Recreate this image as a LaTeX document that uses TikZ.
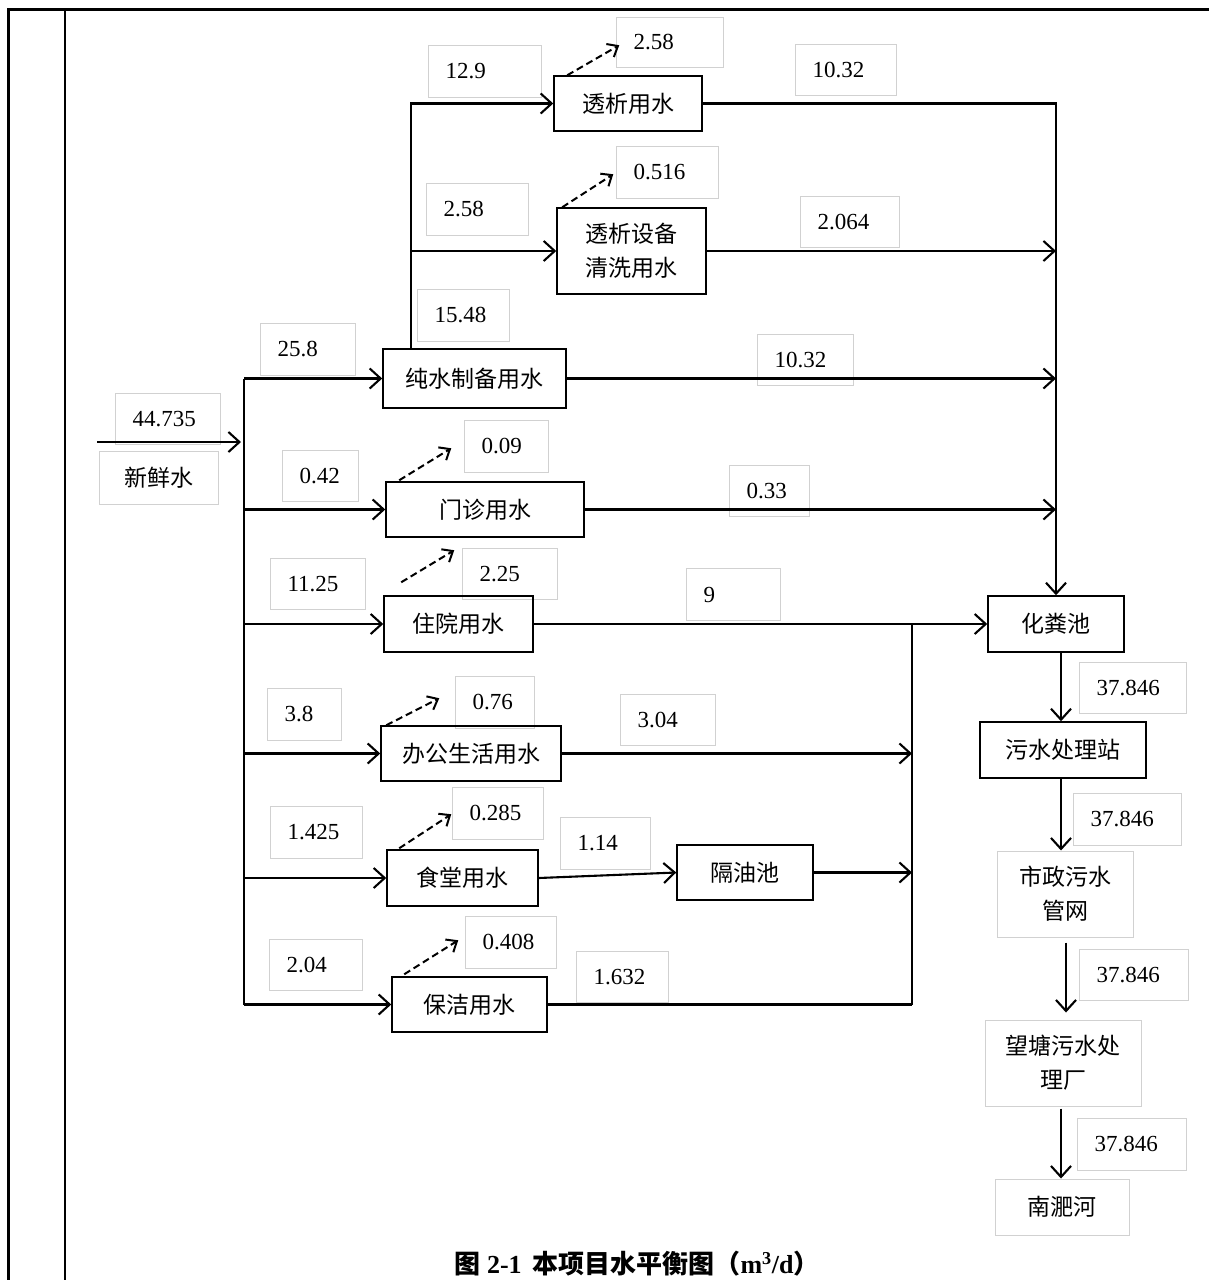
\documentclass[tikz,border=0pt]{standalone}
\usepackage{fontspec}
\setmainfont{Liberation Serif}
\newfontfamily\cjk{Noto Sans CJK SC}
\usetikzlibrary{arrows.meta}
\tikzset{
  box/.style={draw, line width=1.5pt, inner sep=0pt, align=center, font=\cjk\fontsize{23}{34}\selectfont},
  gbox/.style={draw=black!18, line width=1pt, inner sep=0pt, align=center, font=\cjk\fontsize{23}{34}\selectfont},
  num/.style={draw=black!18, line width=1pt, inner xsep=17pt, inner ysep=0pt, align=left, anchor=north west, font=\fontsize{23}{26}\selectfont},
  ln/.style={line width=2.1pt},
  arr/.style={ln, -{Straight Barb[length=11pt,width=20pt]}},
  darr/.style={line width=2pt, dash pattern=on 7pt off 4pt, -{Straight Barb[length=9pt,width=15pt]}},
}
\begin{document}
\begin{tikzpicture}[x=1pt,y=-1pt]
\useasboundingbox (0,0) rectangle (1208,1280);
% frame
\draw[line width=3pt] (8.5,1282) -- (8.5,9.5) -- (1210,9.5);
\draw[line width=2pt] (65,9.5) -- (65,1282);

% value labels
\node[num, text width=73pt, minimum height=50pt] (n1) at (616,17) {2.58};
\node[num, text width=79pt, minimum height=52pt] (n2) at (428,45) {12.9};
\node[num, text width=67pt, minimum height=51pt] (n3) at (795,44) {10.32};
\node[num, text width=68pt, minimum height=52pt] (n4) at (616,146) {0.516};
\node[num, text width=68pt, minimum height=52pt] (n5) at (426,183) {2.58};
\node[num, text width=65pt, minimum height=51pt] (n6) at (800,196) {2.064};
\node[num, text width=58pt, minimum height=52pt] (n7) at (417,289) {15.48};
\node[num, text width=61pt, minimum height=52pt] (n8) at (260,323) {25.8};
\node[num, text width=62pt, minimum height=51pt] (n9) at (757,334) {10.32};
\node[num, text width=71pt, minimum height=51pt] (n10) at (115,393) {44.735};
\node[num, text width=42pt, minimum height=51pt] (n11) at (282,450) {0.42};
\node[num, text width=50pt, minimum height=52pt] (n12) at (464,420) {0.09};
\node[num, text width=46pt, minimum height=51pt] (n13) at (729,465) {0.33};
\node[num, text width=61pt, minimum height=51pt] (n14) at (270,558) {11.25};
\node[num, text width=61pt, minimum height=51pt] (n15) at (462,548) {2.25};
\node[num, text width=60pt, minimum height=52pt] (n16) at (686,568) {9};
\node[num, text width=40pt, minimum height=52pt] (n17) at (267,688) {3.8};
\node[num, text width=45pt, minimum height=52pt] (n18) at (455,676) {0.76};
\node[num, text width=61pt, minimum height=51pt] (n19) at (620,694) {3.04};
\node[num, text width=73pt, minimum height=51pt] (n20) at (1079,662) {37.846};
\node[num, text width=74pt, minimum height=52pt] (n21) at (1073,793) {37.846};
\node[num, text width=58pt, minimum height=52pt] (n22) at (270,806) {1.425};
\node[num, text width=57pt, minimum height=52pt] (n23) at (452,787) {0.285};
\node[num, text width=56pt, minimum height=52pt] (n24) at (560,817) {1.14};
\node[num, text width=59pt, minimum height=51pt] (n25) at (269,939) {2.04};
\node[num, text width=57pt, minimum height=52pt] (n26) at (465,916) {0.408};
\node[num, text width=58pt, minimum height=51pt] (n27) at (576,951) {1.632};
\node[num, text width=75pt, minimum height=51pt] (n28) at (1079,949) {37.846};
\node[num, text width=75pt, minimum height=52pt] (n29) at (1077,1118) {37.846};

% grey-framed places
\node[gbox, minimum width=119pt, minimum height=53pt] (g1) at (158.5,477.5) {新鲜水};
\node[gbox, minimum width=136pt, minimum height=86pt] (g2) at (1065,894) {市政污水\\管网};
\node[gbox, minimum width=156pt, minimum height=86pt] (g3) at (1063,1063) {望塘污水处\\理厂};
\node[gbox, minimum width=134pt, minimum height=56pt] (g4) at (1062,1207) {南淝河};

% process boxes
\node[box, minimum width=148pt, minimum height=55pt] (b1) at (628,103.5) {透析用水};
\node[box, minimum width=149pt, minimum height=86pt] (b2) at (631.5,251) {透析设备\\清洗用水};
\node[box, minimum width=183pt, minimum height=59pt] (b3) at (474.5,378.5) {纯水制备用水};
\node[box, minimum width=198pt, minimum height=55pt] (b4) at (485,509.5) {门诊用水};
\node[box, minimum width=149pt, minimum height=56pt] (b5) at (458.5,624) {住院用水};
\node[box, minimum width=180pt, minimum height=55pt] (b6) at (471,753.5) {办公生活用水};
\node[box, minimum width=151pt, minimum height=56pt] (b7) at (462.5,878) {食堂用水};
\node[box, minimum width=136pt, minimum height=55pt] (b8) at (745,872.5) {隔油池};
\node[box, minimum width=155pt, minimum height=55pt] (b9) at (469.5,1004.5) {保洁用水};
\node[box, minimum width=136pt, minimum height=56pt] (b10) at (1056,624) {化粪池};
\node[box, minimum width=166pt, minimum height=56pt] (b11) at (1063,750) {污水处理站};

% helper coordinates
\coordinate (in) at (97,442);
\coordinate (tr) at (244,0);
\coordinate (up) at (411,0);
\coordinate (rc) at (1056,0);
\coordinate (c2) at (912,0);
\coordinate (vc) at (1061,0);
\coordinate (vd) at (1066,0);

% inflow and trunk
\draw[arr] (in) -- ([xshift=-3pt]tr |- in);
\draw[ln] (tr |- b3.west) -- (tr |- b9.west);
\draw[arr] (tr |- b3.west) -- (b3.west);
\draw[arr] (tr |- b4.west) -- (b4.west);
\draw[arr] (tr |- b5.west) -- (b5.west);
\draw[arr] (tr |- b6.west) -- (b6.west);
\draw[arr] (tr |- b7.west) -- (b7.west);
\draw[arr] (tr |- b9.west) -- (b9.west);

% pure water branch
\draw[arr] (up |- b3.north) -- (up |- b1.west) -- (b1.west);
\draw[arr] (up |- b2.west) -- (b2.west);

% right collector to septic tank
\draw[arr] (b1.east) -- (rc |- b1.east) -- (b10.north);
\draw[arr] (b2.east) -- (rc |- b2.east);
\draw[arr] (b3.east) -- (rc |- b3.east);
\draw[arr] (b4.east) -- (rc |- b4.east);
\draw[arr] (b5.east) -- (b10.west);

% second collector
\draw[ln] (c2 |- b5.east) -- (c2 |- b9.east);
\draw[arr] (b6.east) -- (c2 |- b6.east);
\draw[arr] (b7.east) -- (b8.west);
\draw[arr] (b8.east) -- (c2 |- b8.east);
\draw[ln] (b9.east) -- (c2 |- b9.east);

% downstream chain
\draw[arr] (vc |- b10.south) -- (vc |- b11.north);
\draw[arr] (vc |- b11.south) -- (vc |- g2.north);
\draw[arr, shorten <=5pt, shorten >=7pt] (vd |- g2.south) -- (vd |- g3.north);
\draw[arr, shorten <=2pt] (vc |- g3.south) -- (vc |- g4.north);

% losses (dashed)
\draw[darr] ([xshift=14pt]b1.north west) -- ++(52,-30);
\draw[darr] ([xshift=6pt]b2.north west) -- ++(51,-33);
\draw[darr] ([xshift=14pt,yshift=1pt]b4.north west) -- ++(52,-32);
\draw[darr] ([xshift=18pt,yshift=13pt]b5.north west) -- ++(53,-32);
\draw[darr] ([xshift=6pt]b6.north west) -- ++(53,-27);
\draw[darr] ([xshift=13pt,yshift=1pt]b7.north west) -- ++(52,-34);
\draw[darr] ([xshift=13pt,yshift=2pt]b9.north west) -- ++(54,-34);

% caption
\node[font=\bfseries\fontsize{26}{30}\selectfont] (cap) at (637,1264) {{\cjk 图} 2-1 \,{\cjk 本项目水平衡图（}m\textsuperscript{3}/d{\cjk ）}};
\end{tikzpicture}
\end{document}
